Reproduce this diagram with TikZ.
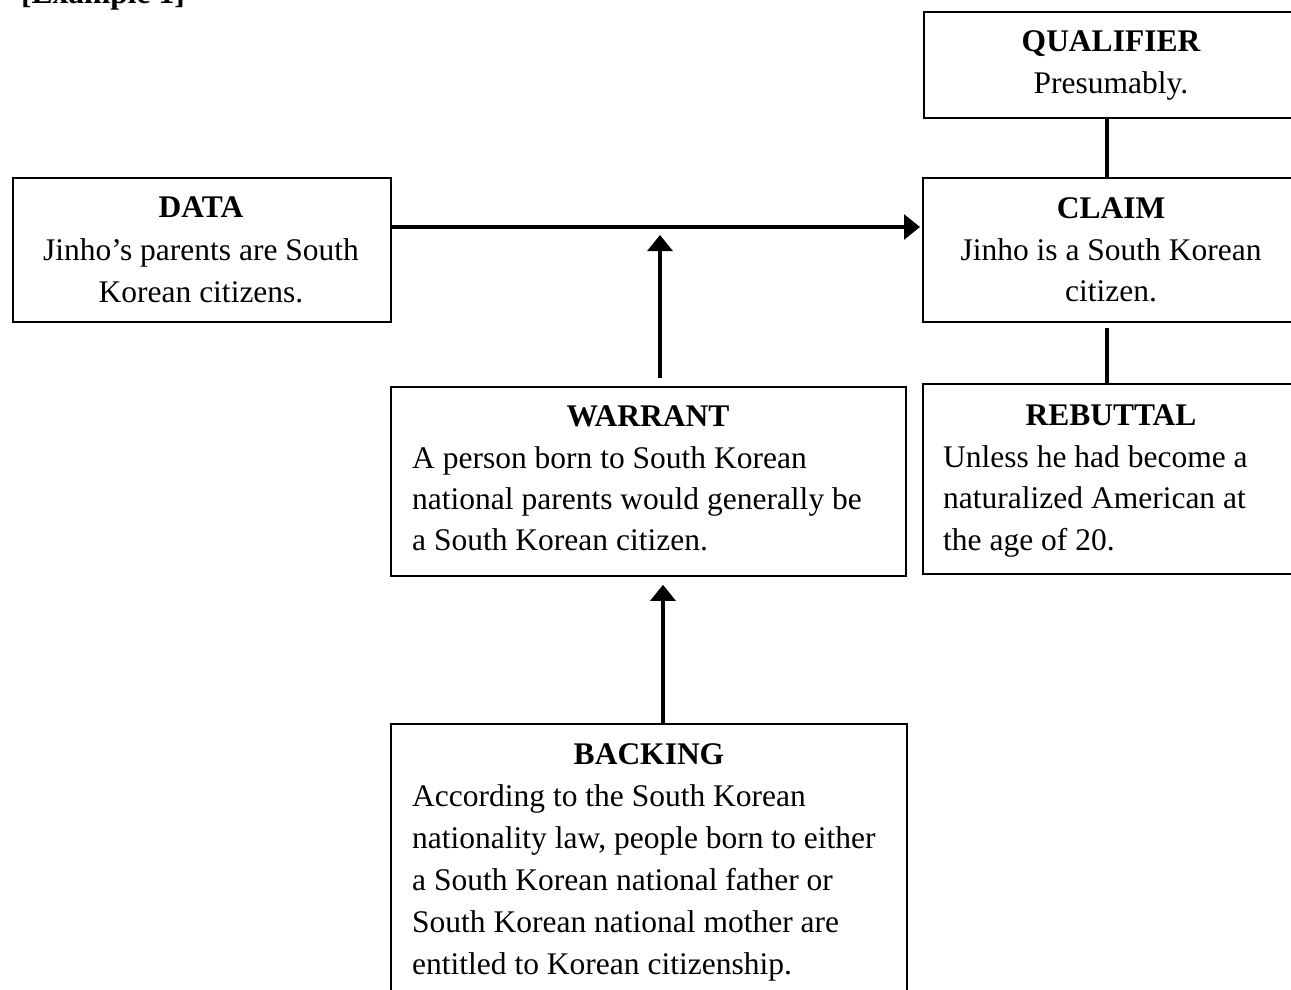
\documentclass[tikz,border=0pt]{standalone}
\usepackage{fontspec}
\setmainfont{Liberation Serif}
\usetikzlibrary{arrows.meta}

\begin{document}
\begin{tikzpicture}[x=1pt, y=-1pt,
  box/.style={draw=black, line width=1.8pt, rectangle, inner sep=0pt, anchor=north west},
  txt/.style={inner sep=0pt, font=\fontsize{31.5}{41.5}\selectfont},
  ctr/.style={txt, anchor=base},
  lft/.style={txt, anchor=base west},
  ttl/.style={txt, anchor=base, font=\fontsize{31.5}{41.5}\selectfont\bfseries},
  conn/.style={draw=black, line width=3.2pt},
  arr/.style={conn, -{Triangle[length=16pt, width=25pt]}}
]
\useasboundingbox (0,0) rectangle (1291,990);

% heading of the example
\node[txt, anchor=base west, font=\fontsize{31.5}{41.5}\selectfont\bfseries] (heading) at (21,4) {[Example 1]};

% boxes
\node[box, minimum width=377pt, minimum height=106pt] (qualifier) at (923,11) {};
\node[box, minimum width=378pt, minimum height=144pt] (data) at (12,177) {};
\node[box, minimum width=378pt, minimum height=144pt] (claim) at (922,177) {};
\node[box, minimum width=515pt, minimum height=189pt] (warrant) at (390,386) {};
\node[box, minimum width=378pt, minimum height=190pt] (rebuttal) at (922,383) {};
\node[box, minimum width=516pt, minimum height=290pt] (backing) at (390,723) {};

% qualifier
\node[ttl] (q0) at (1111,52) {QUALIFIER};
\node[ctr] (q1) at (1111,93) {Presumably.};

% data
\node[ttl] (d0) at (201,217) {DATA};
\node[ctr] (d1) at (201,260) {Jinho’s parents are South};
\node[ctr] (d2) at (201,302) {Korean citizens.};

% claim
\node[ttl] (c0) at (1111,218) {CLAIM};
\node[ctr] (c1) at (1111,260) {Jinho is a South Korean};
\node[ctr] (c2) at (1111,301) {citizen.};

% warrant
\node[ttl] (w0) at (648,426) {WARRANT};
\node[lft] (w1) at (412,468) {A person born to South Korean};
\node[lft] (w2) at (412,509) {national parents would generally be};
\node[lft] (w3) at (412,550) {a South Korean citizen.};

% rebuttal
\node[ttl] (r0) at (1111,425) {REBUTTAL};
\node[lft] (r1) at (943,467) {Unless he had become a};
\node[lft] (r2) at (943,508) {naturalized American at};
\node[lft] (r3) at (943,550) {the age of 20.};

% backing
\node[ttl] (b0) at (649,764) {BACKING};
\node[lft] (b1) at (412,806) {According to the South Korean};
\node[lft] (b2) at (412,848) {nationality law, people born to either};
\node[lft] (b3) at (412,890) {a South Korean national father or};
\node[lft] (b4) at (412,932) {South Korean national mother are};
\node[lft] (b5) at (412,974) {entitled to Korean citizenship.};

% connector rails
\coordinate (ay) at (0,227);
\coordinate (wx) at (660,0);
\coordinate (bx) at (663,0);
\coordinate (lx) at (1107,0);

% connectors
\draw[arr, shorten >=2pt] (data.east |- ay) -- (claim.west |- ay);
\draw[arr, shorten <=8pt, shorten >=8pt] (warrant.north -| wx) -- (wx |- ay);
\draw[arr, shorten >=8pt] (backing.north -| bx) -- (warrant.south -| bx);
\draw[conn] (qualifier.south -| lx) -- (claim.north -| lx);
\draw[conn, shorten <=5pt] (claim.south -| lx) -- (rebuttal.north -| lx);
\end{tikzpicture}
\end{document}
